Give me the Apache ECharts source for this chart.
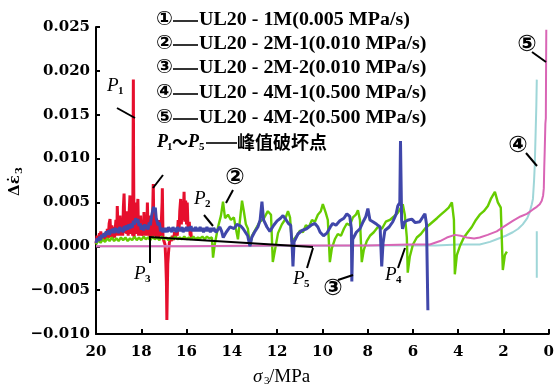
<!DOCTYPE html>
<html>
<head>
<meta charset="utf-8">
<script src="https://cdn.jsdelivr.net/npm/echarts/dist/echarts.min.js"></script>
<style>
  html, body { margin: 0; padding: 0; background: #fff; }
  #chart { width: 557px; height: 386px; }
</style>
</head>
<body>
<div id="chart"></div>
<script>
// Confining pressure (σ3, MPa) vs. change of strain rate (Δε̇3) for five unloading tests.

const sigmaTicks = [0, 20, 2];            // min, max, interval of σ3 axis
const rateTicks = [-0.010, 0.025, 0.005]; // min, max, interval of Δε̇3 axis

const legendNames = [
  'UL20 - 1M(0.005 MPa/s)',
  'UL20 - 2M-1(0.010 MPa/s)',
  'UL20 - 2M-2(0.010 MPa/s)',
  'UL20 - 4M-1(0.500 MPa/s)',
  'UL20 - 4M-2(0.500 MPa/s)'
];
const circled = ['①', '②', '③', '④', '⑤'];

// ① UL20-1M  [σ3, Δε̇3]
const curve1 = [
  [20.0,0.0003],[19.95,0.0012],[19.9,0.0005],[19.85,0.0015],[19.8,0.0006],[19.79,0.0017],
  [19.74,0.0007],[19.68,0.0014],[19.62,0.0006],[19.56,0.0016],[19.52,0.0008],[19.50,0.0020],
  [19.46,0.0009],[19.42,0.0026],[19.38,0.0031],[19.34,0.0010],[19.30,0.0024],[19.26,0.0009],
  [19.22,0.0022],[19.18,0.0010],[19.12,0.0030],[19.08,0.0012],[19.06,0.0046],[19.02,0.0012],
  [18.98,0.0030],[18.94,0.0035],[18.9,0.0012],[18.86,0.0028],[18.82,0.0012],[18.79,0.0045],
  [18.76,0.0060],[18.72,0.0015],[18.68,0.0034],[18.64,0.0014],[18.62,0.0040],[18.58,0.0012],
  [18.54,0.0036],[18.50,0.0058],[18.46,0.0014],[18.42,0.0030],[18.38,0.0012],[18.36,0.0120],
  [18.35,0.0190],[18.34,0.0100],[18.32,0.0010],[18.28,0.0030],[18.25,0.0050],[18.22,0.0014],
  [18.18,0.0040],[18.15,0.0054],[18.12,0.0012],[18.08,0.0028],[18.05,0.0012],[18.03,0.0035],
  [17.99,0.0012],[17.94,0.0026],[17.9,0.0012],[17.88,0.0039],[17.84,0.0012],[17.8,0.0028],
  [17.76,0.0012],[17.73,0.0050],[17.7,0.0014],[17.66,0.0035],[17.62,0.0010],[17.57,0.0022],
  [17.52,0.0010],[17.48,0.0060],[17.47,0.0071],[17.44,0.0012],[17.4,0.0024],[17.36,0.0030],
  [17.33,0.0010],[17.28,0.0022],[17.24,0.0010],[17.22,0.0030],[17.18,0.0012],[17.12,0.0024],
  [17.08,0.0050],[17.07,0.0066],[17.04,0.0010],[17.0,0.0006],[16.95,0.0002],[16.92,-0.0015],
  [16.89,-0.0040],[16.87,-0.0084],[16.85,-0.0050],[16.83,-0.0020],[16.8,-0.0008],[16.76,0.0004],
  [16.7,0.0010],[16.66,0.0006],[16.63,0.0012],[16.58,0.0007],[16.53,0.0016],[16.48,0.0010],
  [16.45,0.0020],[16.41,0.0012],[16.37,0.0030],[16.33,0.0018],[16.3,0.0040],[16.26,0.0054],
  [16.23,0.0025],[16.19,0.0050],[16.15,0.0030],[16.11,0.0062],[16.08,0.0028],[16.04,0.0052],
  [16.0,0.0025],[15.97,0.0050],[15.93,0.0018],[15.88,0.0028],[15.84,0.0012],[15.82,0.0020],
  [15.78,0.0008]
];

// ② UL20-2M-1
const curve2 = [
  [20.0,0.0002],[19.9,0.0007],[19.8,0.0004],[19.7,0.0008],[19.6,0.0005],[19.5,0.0009],
  [19.4,0.0006],[19.3,0.0010],[19.2,0.0006],[19.1,0.0009],[19.0,0.0006],[18.9,0.0010],
  [18.8,0.0007],[18.7,0.0010],[18.6,0.0006],[18.5,0.0009],[18.4,0.0007],[18.3,0.0011],
  [18.2,0.0007],[18.1,0.0010],[18.0,0.0007],[17.9,0.0011],[17.8,0.0008],[17.7,0.0010],
  [17.6,0.0007],[17.5,0.0011],[17.4,0.0008],[17.3,0.0010],[17.2,0.0007],[17.1,0.0011],
  [17.0,0.0008],[16.9,0.0010],[16.8,0.0007],[16.7,0.0010],[16.6,0.0008],[16.5,0.0011],
  [16.4,0.0008],[16.3,0.0010],[16.2,0.0008],[16.1,0.0011],[16.0,0.0008],[15.9,0.0010],
  [15.8,0.0008],[15.7,0.0011],[15.6,0.0008],[15.5,0.0010],[15.4,0.0009],[15.3,0.0011],
  [15.2,0.0008],[15.1,0.0011],[15.0,0.0009],[14.88,0.0010],[14.83,-0.0013],
  [14.75,0.0003],[14.61,0.0022],[14.48,0.0035],[14.39,0.0051],[14.30,0.0032],[14.17,0.0036],
  [14.04,0.0030],[13.91,0.0033],[13.82,0.0020],[13.73,0.0008],[13.64,0.0030],[13.55,0.0052],
  [13.47,0.0040],[13.38,0.0025],[13.29,0.0020],[13.20,0.0000],[13.11,0.0012],[12.94,0.0020],
  [12.76,0.0028],[12.58,0.0032],[12.41,0.0040],[12.27,0.0036],[12.19,-0.0018],[12.10,-0.0005],
  [11.96,0.0015],[11.79,0.0025],[11.66,0.0030],[11.52,0.0040],[11.43,0.0033],[11.35,0.0005],
  [11.26,0.0008],[11.13,0.0012],[10.99,0.0018],[10.86,0.0016],[10.73,0.0024],[10.60,0.0022],
  [10.46,0.0030],[10.33,0.0028],[10.20,0.0036],[10.07,0.0040],[9.98,0.0048],[9.85,0.0038],
  [9.76,0.0030],[9.67,-0.0018],[9.58,-0.0002],[9.45,0.0008],[9.32,0.0014],[9.18,0.0012],
  [9.05,0.0020],[8.92,0.0026],[8.79,0.0024],[8.65,0.0033],[8.52,0.0036],[8.43,0.0041],
  [8.34,0.0030],[8.26,-0.0018],[8.17,-0.0004],[8.04,0.0006],[7.90,0.0012],[7.73,0.0016],
  [7.55,0.0022],[7.37,0.0020],[7.20,0.0028],[7.02,0.0030],[6.84,0.0034],[6.67,0.0038],
  [6.53,0.0044],[6.45,0.0048],[6.36,0.0036],[6.27,0.0010],[6.23,-0.0030],[6.14,-0.0012],
  [6.00,0.0002],[5.83,0.0010],[5.65,0.0014],[5.47,0.0020],[5.30,0.0024],[5.12,0.0028],
  [4.94,0.0032],[4.77,0.0036],[4.59,0.0040],[4.42,0.0044],[4.28,0.0050],[4.19,0.0030],
  [4.15,-0.0032],[4.06,-0.0010],[3.93,0.0000],[3.75,0.0010],[3.58,0.0016],[3.40,0.0022],
  [3.22,0.0030],[3.05,0.0036],[2.87,0.0040],[2.69,0.0046],[2.56,0.0054],[2.38,0.0062],
  [2.25,0.0050],[2.12,0.0044],[2.03,-0.0027],[1.94,-0.0010],[1.85,-0.0006]
];

// ③ UL20-2M-2
const curve3 = [
  [20.0,0.0004],[19.95,0.0009],[19.9,0.0006],[19.85,0.0011],[19.8,0.0007],[19.75,0.0013],
  [19.7,0.0010],[19.65,0.0015],[19.6,0.0011],[19.55,0.0017],[19.5,0.0013],[19.45,0.0018],
  [19.4,0.0013],[19.35,0.0019],[19.3,0.0015],[19.25,0.0020],[19.2,0.0015],[19.15,0.0021],
  [19.1,0.0016],[19.05,0.0020],[19.0,0.0015],[18.95,0.0022],[18.9,0.0017],[18.85,0.0021],
  [18.8,0.0016],[18.75,0.0023],[18.7,0.0018],[18.65,0.0024],[18.6,0.0019],[18.55,0.0025],
  [18.5,0.0020],[18.45,0.0026],[18.4,0.0021],[18.35,0.0029],[18.3,0.0025],[18.25,0.0032],
  [18.2,0.0027],[18.15,0.0031],[18.1,0.0023],[18.05,0.0026],[18.0,0.0019],[17.95,0.0024],
  [17.9,0.0018],[17.85,0.0025],[17.8,0.0020],[17.75,0.0024],[17.7,0.0019],[17.65,0.0027],
  [17.6,0.0024],[17.55,0.0034],[17.5,0.0036],[17.46,0.0045],[17.42,0.0040],[17.38,0.0044],
  [17.34,0.0032],[17.3,0.0034],[17.25,0.0024],[17.2,0.0027],[17.15,0.0017],[17.1,0.0021],
  [17.05,0.0016],[17.0,0.0021],[16.95,0.0016],[16.9,0.0021],[16.85,0.0016],[16.8,0.0022],
  [16.75,0.0017],[16.7,0.0021],[16.65,0.0016],[16.6,0.0022],[16.55,0.0017],[16.5,0.0021],
  [16.45,0.0016],[16.4,0.0022],[16.35,0.0017],[16.3,0.0021],[16.25,0.0017],[16.2,0.0022],
  [16.15,0.0016],[16.1,0.0021],[16.05,0.0017],[16.0,0.0022],[15.95,0.0017],[15.9,0.0022],
  [15.85,0.0018],[15.8,0.0023],[15.75,0.0017],[15.7,0.0021],[15.65,0.0017],[15.6,0.0022],
  [15.55,0.0017],[15.5,0.0021],[15.45,0.0017],[15.4,0.0022],[15.35,0.0017],[15.3,0.0021],
  [15.25,0.0016],[15.2,0.0021],[15.15,0.0017],[15.1,0.0022],[15.05,0.0017],[15.0,0.0021],
  [14.95,0.0016],[14.9,0.0021],[14.85,0.0017],[14.8,0.0021],
  [14.7,0.0016],[14.53,0.0022],[14.45,0.0017],[14.38,0.0010],[14.25,0.0016],[14.08,0.0022],
  [13.9,0.0020],[13.78,0.0025],[13.6,0.0023],[13.5,0.0020],[13.3,0.0012],[13.2,0.0000],
  [13.12,0.0010],[13.0,0.0016],[12.85,0.0022],[12.75,0.0030],[12.67,0.0051],[12.6,0.0030],
  [12.45,0.0022],[12.32,0.0017],[12.15,0.0024],[12.0,0.0029],[11.85,0.0032],[11.74,0.0035],
  [11.6,0.0030],[11.5,0.0026],[11.4,0.0024],[11.33,-0.0003],[11.3,-0.0023],[11.25,0.0005],
  [11.08,0.0014],[10.9,0.0018],[10.7,0.0020],[10.5,0.0024],[10.33,0.0026],[10.2,0.0022],
  [10.1,0.0016],[9.95,0.0012],[9.8,0.0015],[9.65,0.0022],[9.54,0.0026],[9.4,0.0024],
  [9.23,0.0029],[9.05,0.0032],[8.92,0.0037],[8.79,0.0034],[8.72,0.0020],[8.70,-0.0040],
  [8.66,0.0008],[8.5,0.0016],[8.34,0.0020],[8.2,0.0028],[8.08,0.0034],[7.99,0.0043],
  [7.9,0.0030],[7.77,0.0028],[7.6,0.0025],[7.45,0.0022],[7.38,-0.0023],[7.32,0.0004],
  [7.24,0.0018],[7.05,0.0022],[6.89,0.0028],[6.75,0.0036],[6.67,0.0046],[6.58,0.0050],
  [6.55,0.0120],[6.50,0.0030],[6.46,0.0020],[6.36,0.0028],[6.2,0.0030],[6.05,0.0031],
  [5.9,0.0027],[5.7,0.0028],[5.55,0.0034],[5.47,0.0037],[5.40,0.0025],[5.34,-0.0073]
];

// ④ UL20-4M-1
const curve4 = [
  [20.0,0.0000],[14.0,0.0000],[8.0,0.0001],[6.0,0.0001],[5.0,0.0001],[4.0,0.0002],
  [3.5,0.0002],[3.05,0.0002],[2.6,0.0005],[2.3,0.0008],[1.9,0.0012],[1.59,0.0016],
  [1.35,0.0020],[1.15,0.0025],[0.95,0.0032],[0.84,0.0039],[0.75,0.0048],[0.7,0.0054],
  [0.65,0.0075],[0.62,0.0092],[0.58,0.0130],[0.55,0.0160],[0.53,0.0190],
  [0.53,null],[0.53,0.0017],[0.53,-0.0036]
];

// ⑤ UL20-4M-2
const curve5 = [
  [20.0,0.0000],[16.0,0.0000],[12.0,0.0001],[8.0,0.0001],[6.2,0.0002],[5.25,0.0002],
  [4.8,0.0006],[4.5,0.0010],[4.15,0.0013],[3.9,0.0012],[3.62,0.0010],[3.3,0.0009],
  [3.05,0.0010],[2.7,0.0013],[2.3,0.0017],[1.95,0.0023],[1.59,0.0029],[1.25,0.0034],
  [0.97,0.0037],[0.7,0.0042],[0.53,0.0045],[0.4,0.0048],[0.31,0.0052],[0.25,0.0058],
  [0.22,0.0066],[0.2,0.0090],[0.18,0.0108],[0.15,0.0140],[0.13,0.0146],[0.12,0.0200],
  [0.11,0.0247]
];

const colors = ['#e60f2d', '#66cc00', '#4047aa', '#9fd6d8', '#d965b5'];
const widths = [3, 2.4, 3, 2, 2];

const chart = echarts.init(document.getElementById('chart'), null, { renderer: 'canvas' });

const serifBold = { fontFamily: 'DejaVu Serif', fontWeight: 'bold', fontSize: 15, color: '#000' };
const LEG = '"Liberation Serif", "Times New Roman", serif';

function text(x, y, s, o) {
  o = o || {};
  return {
    type: 'text', x: x, y: y, z: 100,
    scaleX: o.sx || 1,
    style: {
      text: s,
      fill: '#000',
      fontFamily: o.family || LEG,
      fontSize: o.size || 18,
      fontWeight: o.weight || 'normal',
      fontStyle: o.style || 'normal',
      align: o.align || 'left', textAlign: o.align || 'left',
      verticalAlign: 'middle', textVerticalAlign: 'middle'
    }
  };
}
function seg(x1, y1, x2, y2, w) {
  return { type: 'line', z: 100, shape: { x1, y1, x2, y2 }, style: { stroke: '#000', lineWidth: w || 2 } };
}

const graphics = [];
// legend block
const rowY = [20, 44, 68, 93, 118];
legendNames.forEach((name, i) => {
  graphics.push(text(156, rowY[i], circled[i], { family: 'DejaVu Sans', weight: 'bold', size: 20 }));
  graphics.push(seg(173, rowY[i] + 1, 198, rowY[i] + 1, 1.6));
  graphics.push(text(199, rowY[i], name, { weight: 'bold', size: 18, sx: 1.11 }));
});
// P1～P5 — 峰值破坏点
graphics.push(text(157, 142, 'P', { style: 'italic', weight: 'bold', size: 18 }));
graphics.push(text(167, 147, '1', { weight: 'bold', size: 11 }));
graphics.push(text(172, 142, '～', { weight: 'bold', size: 16, family: 'Noto Sans CJK SC' }));
graphics.push(text(188, 142, 'P', { style: 'italic', weight: 'bold', size: 18 }));
graphics.push(text(199, 147, '5', { weight: 'bold', size: 11 }));
graphics.push(seg(206, 143, 237, 143, 1.6));
graphics.push(text(237, 142, '峰值破坏点', { family: 'Noto Sans CJK SC', weight: 'bold', size: 18 }));

// point labels and leaders
function pLabel(x, y, sub) {
  graphics.push(text(x, y, 'P', { style: 'italic', size: 19, family: LEG }));
  graphics.push(text(x + 11, y + 5, sub, { size: 11, family: LEG, weight: 'bold' }));
}
pLabel(107, 86, '1');  graphics.push(seg(117, 108, 135, 118));
graphics.push(seg(153, 188, 163, 175));
pLabel(194, 199, '2'); graphics.push(seg(204, 215, 213, 226));
pLabel(134, 274, '3'); graphics.push(seg(150, 237, 150, 263));
graphics.push(seg(149, 237, 313, 247, 1.8));
pLabel(293, 279, '5'); graphics.push(seg(313, 248, 307, 268));
pLabel(385, 275, '4'); graphics.push(seg(398, 268, 405, 248));
// circled curve tags
function tag(x, y, s) { graphics.push(text(x, y, s, { family: 'DejaVu Sans', weight: 'bold', size: 23, align: 'center' })); }
tag(235, 178, '②'); graphics.push(seg(233, 190, 226, 203));
tag(333, 289, '③'); graphics.push(seg(338, 280, 353, 275));
tag(518, 146, '④'); graphics.push(seg(526, 153, 537, 166));
tag(527, 45, '⑤');  graphics.push(seg(532, 52, 546, 62));

// axis names
graphics.push({
  type: 'group', x: 15, y: 182, rotation: Math.PI / 2, z: 100,
  children: [
    text(-14, 0, 'Δε̇', { family: 'DejaVu Serif', weight: 'bold', size: 15 }),
    text(8, 4, '3', { family: 'DejaVu Serif', weight: 'bold', size: 10 })
  ]
});
graphics.push(text(253, 377, 'σ', { style: 'italic', size: 19 }));
graphics.push(text(264, 381, '3', { size: 11 }));
graphics.push(text(269, 377, '/MPa', { size: 19 }));

const seriesData = [curve1, curve2, curve3, curve4, curve5];
const zOrder = [1, 3, 5, 2, 4];

chart.setOption({
  animation: false,
  backgroundColor: '#fff',
  grid: { left: 96, right: 8, top: 27, bottom: 52, containLabel: false },
  xAxis: {
    type: 'value', inverse: true,
    min: sigmaTicks[0], max: sigmaTicks[1], interval: sigmaTicks[2],
    axisLine: { onZero: false, lineStyle: { color: '#000', width: 2 } },
    axisTick: { inside: true, length: 5, lineStyle: { color: '#000', width: 2 } },
    axisLabel: Object.assign({ margin: 11 }, serifBold),
    splitLine: { show: false }
  },
  yAxis: {
    type: 'value',
    min: rateTicks[0], max: rateTicks[1], interval: rateTicks[2],
    axisLine: { show: true, onZero: false, lineStyle: { color: '#000', width: 2 } },
    axisTick: { show: true, inside: true, length: 4, lineStyle: { color: '#000', width: 2 } },
    axisLabel: Object.assign({
      margin: 6,
      formatter: v => (v < -1e-9 ? '\u2212' : '') + Math.abs(v).toFixed(3)
    }, serifBold),
    splitLine: { show: false }
  },
  series: seriesData.map((d, i) => ({
    type: 'line',
    data: d,
    z: zOrder[i],
    showSymbol: false,
    symbol: 'none',
    connectNulls: false,
    clip: true,
    lineStyle: { color: colors[i], width: widths[i] }
  })),
  graphic: graphics
});
</script>
</body>
</html>
